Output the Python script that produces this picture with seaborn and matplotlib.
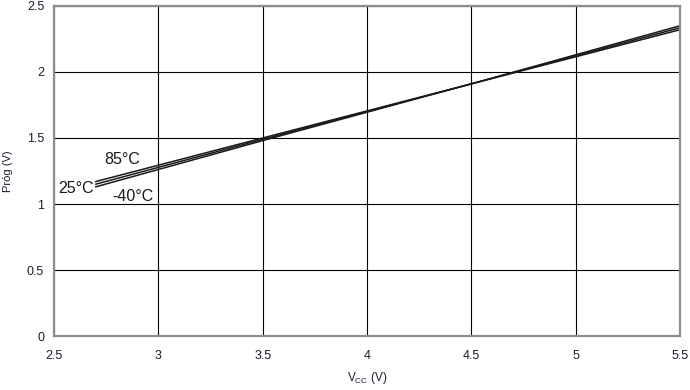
import numpy as np
import pandas as pd
import matplotlib
matplotlib.use("Agg")
import matplotlib.pyplot as plt
import seaborn as sns

# Values
vcc = [2.7, 3.5, 4.5, 5.5]
prog_85 = [1.17, 1.50, 1.91, 2.32]
prog_25 = [1.15, 1.49, 1.91, 2.335]
prog_m40 = [1.13, 1.48, 1.91, 2.35]
temps = ["85°C", "25°C", "-40°C"]
x_ticks = [2.5, 3, 3.5, 4, 4.5, 5, 5.5]
x_tick_labels = ["2.5", "3", "3.5", "4", "4.5", "5", "5.5"]
y_ticks = [0, 0.5, 1, 1.5, 2, 2.5]
y_tick_labels = ["0", "0.5", "1", "1.5", "2", "2.5"]

df = pd.DataFrame({
    "vcc": vcc * 3,
    "prog": prog_85 + prog_25 + prog_m40,
    "temp": [temps[0]] * 4 + [temps[1]] * 4 + [temps[2]] * 4,
})

sns.set_style("white")
plt.rcParams["font.family"] = ["Liberation Sans", "DejaVu Sans"]

fig = plt.figure(figsize=(6.9, 3.9), dpi=100)
ax = fig.add_axes([0.078, 0.138, 0.908, 0.847])

sns.lineplot(data=df, x="vcc", y="prog", hue="temp",
             palette=["#1a1a1a"] * 3, linewidth=1.1, legend=False, ax=ax)

ax.set_xlim(2.5, 5.5)
ax.set_ylim(0, 2.5)
ax.set_xticks(x_ticks)
ax.set_xticklabels(x_tick_labels)
ax.set_yticks(y_ticks)
ax.set_yticklabels(y_tick_labels)
ax.grid(True, color="black", linewidth=0.8)
ax.tick_params(length=0, labelsize=9, colors="#1c1c33")
ax.tick_params(axis="x", pad=10)
ax.tick_params(axis="y", pad=7)
for s in ax.spines.values():
    s.set_color("#8a8e92")
    s.set_linewidth(1.6)

ax.set_xlabel("V$_{\\mathregular{CC}}$ (V)", fontsize=8.5, color="#1c1c33", labelpad=6)
ax.set_ylabel("Próg (V)", fontsize=8, color="#1c1c33", labelpad=10)

ax.text(2.74, 1.335, temps[0], fontsize=11.5, color="#1a1a1a", va="center")
ax.text(2.52, 1.115, temps[1], fontsize=11.5, color="#1a1a1a", va="center")
ax.text(2.78, 1.055, temps[2], fontsize=11.5, color="#1a1a1a", va="center")

fig.savefig("out.png", dpi=100)
